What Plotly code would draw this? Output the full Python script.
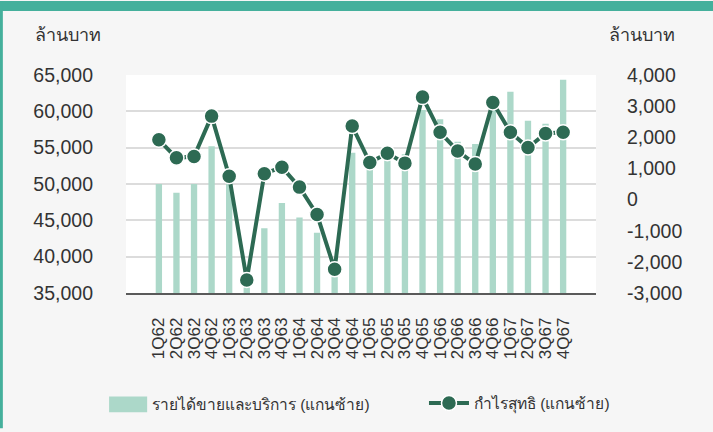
import plotly.graph_objects as go

QUARTERS = ["1Q62", "2Q62", "3Q62", "4Q62", "1Q63", "2Q63", "3Q63", "4Q63",
            "1Q64", "2Q64", "3Q64", "4Q64", "1Q65", "2Q65", "3Q65", "4Q65",
            "1Q66", "2Q66", "3Q66", "4Q66", "1Q67", "2Q67", "3Q67", "4Q67"]
REVENUE = [50000, 48800, 50000, 55200, 50100, 35800, 43900, 47400,
           45400, 43300, 37500, 54300, 52100, 53250, 54100, 60200,
           58900, 55800, 55500, 60300, 62700, 58700, 58300, 64350]
NET_PROFIT = [1920, 1340, 1380, 2680, 750, -2580, 830, 1040,
              400, -480, -2240, 2360, 1190, 1490, 1170, 3290,
              2160, 1560, 1140, 3120, 2160, 1670, 2120, 2160]
RIGHT_TICKS = [-3000, -2000, -1000, 0, 1000, 2000, 3000, 4000]
RIGHT_TICK_TEXT = ["-3,000", "-2,000", "-1,000", "0", "1,000", "2,000", "3,000", "4,000"]

BAR_NAME = "รายได้ขายและบริการ (แกนซ้าย)"
LINE_NAME = "กำไรสุทธิ (แกนซ้าย)"
UNIT = "ล้านบาท"

BAR_COLOR = "#acd8c9"
LINE_COLOR = "#2d6a53"
TEAL = "#45b09c"
TEXT = "#333333"
FONT = "Arial, Liberation Sans, Noto Sans, sans-serif"

fig = go.Figure()
fig.add_trace(go.Bar(x=QUARTERS, y=REVENUE, name=BAR_NAME, marker_color=BAR_COLOR,
                     marker_line_width=0, showlegend=False))
fig.add_trace(go.Scatter(x=QUARTERS, y=NET_PROFIT, name=LINE_NAME, yaxis="y2",
                         mode="lines+markers",
                         line=dict(color=LINE_COLOR, width=4),
                         marker=dict(size=15, color=LINE_COLOR,
                                     line=dict(color="white", width=1.5))))

fig.update_layout(
    width=713, height=432,
    margin=dict(l=126, r=117, t=75, b=136),
    paper_bgcolor="#f6f6f6", plot_bgcolor="white",
    font=dict(family=FONT, color=TEXT),
    bargap=0.64,
    xaxis=dict(tickangle=-90, tickfont=dict(size=17), showline=True,
               tickmode="array", tickvals=QUARTERS,
               linecolor="#5a5a5a", linewidth=1.5, showgrid=False,
               ticklabelstandoff=16, automargin=False),
    yaxis=dict(range=[35000, 65000], dtick=5000, tickformat=",",
               tickfont=dict(size=19.5), gridcolor="#dcdcdc", gridwidth=1.5,
               zeroline=False, ticklabelstandoff=32, automargin=False),
    yaxis2=dict(range=[-3000, 4000], tickmode="array", tickvals=RIGHT_TICKS,
                ticktext=RIGHT_TICK_TEXT, overlaying="y",
                side="right", showgrid=False, zeroline=False,
                tickfont=dict(size=19.5), ticklabelstandoff=30, automargin=False),
    legend=dict(orientation="h", x=0.634, y=-0.507, yanchor="middle",
                xanchor="left", font=dict(size=15.5), bgcolor="rgba(0,0,0,0)",
                itemwidth=40),
    showlegend=True,
)

# unit labels above both axes
fig.add_annotation(text=UNIT, xref="paper", yref="paper", x=-0.197, y=1.185,
                   xanchor="left", yanchor="middle", showarrow=False,
                   font=dict(size=18, color=TEXT))
fig.add_annotation(text=UNIT, xref="paper", yref="paper", x=1.023, y=1.185,
                   xanchor="left", yanchor="middle", showarrow=False,
                   font=dict(size=18, color=TEXT))

# bar legend entry (wide swatch like the original)
fig.add_shape(type="rect", xref="paper", yref="paper", x0=-0.036, x1=0.045,
              y0=-0.5475, y1=-0.475, fillcolor=BAR_COLOR, line_width=0)
fig.add_annotation(text=BAR_NAME, xref="paper", yref="paper", x=0.052, y=-0.511,
                   xanchor="left", yanchor="middle", showarrow=False,
                   font=dict(size=15.5, color=TEXT))

# teal frame: band at top, thin strip at left
fig.add_shape(type="rect", xref="paper", yref="paper", x0=-0.27, x1=1.25,
              y0=1.294, y1=1.34, fillcolor=TEAL, line_width=0, layer="above")
fig.add_shape(type="rect", xref="paper", yref="paper", x0=-0.27, x1=-0.262,
              y0=-0.62, y1=1.34, fillcolor=TEAL, line_width=0, layer="above")

fig.write_html("out.html", config={"displayModeBar": False},
               post_script="document.body.style.margin='0';")
